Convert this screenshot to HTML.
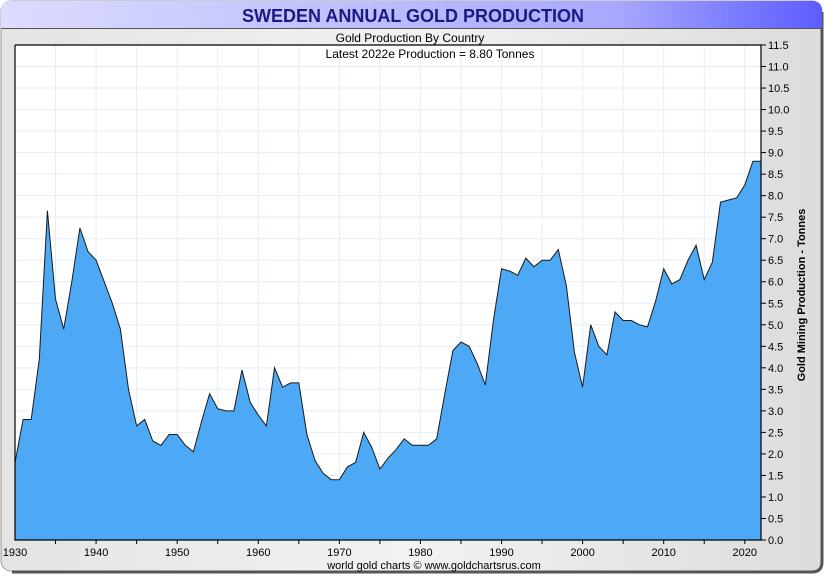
<!DOCTYPE html>
<html><head><meta charset="utf-8"><style>
body{margin:0;background:#fff;width:825px;height:575px;overflow:hidden;font-family:"Liberation Sans",sans-serif}
</style></head><body>
<svg id="c" width="825" height="575" xmlns="http://www.w3.org/2000/svg">
<defs>
<linearGradient id="tb" x1="0" x2="1"><stop offset="0" stop-color="#dcdcff"/><stop offset="0.75" stop-color="#a8a8ff"/><stop offset="1" stop-color="#5c5cff"/></linearGradient>
<linearGradient id="bg" x1="0" x2="1"><stop offset="0" stop-color="#e4e4e4"/><stop offset="0.5" stop-color="#f2f2f2"/><stop offset="1" stop-color="#dcdcdc"/></linearGradient>
</defs>
<rect x="1" y="1" width="821" height="570" rx="10" fill="url(#bg)" stroke="#999"/>
<path d="M822,12 V562 Q822,572 812,572 H12" fill="none" stroke="#555" stroke-width="3"/>
<path d="M1,28 V11 Q1,1 11,1 H812 Q822,1 822,11 V28 Z" fill="url(#tb)"/>
<line x1="1" y1="28.5" x2="822" y2="28.5" stroke="#555"/>
<text x="413" y="22" text-anchor="middle" font-size="18" font-weight="bold" fill="#1a1a80">SWEDEN ANNUAL GOLD PRODUCTION</text>
<text x="410" y="42" text-anchor="middle" font-size="12" fill="#000">Gold Production By Country</text>
<rect x="15" y="45" width="746" height="495" fill="#fff"/>
<g id="grid"></g>
<path id="area" fill="#4da9f5" stroke="#1a1a1a" stroke-width="1"/>
<text x="430" y="58" text-anchor="middle" font-size="12" fill="#000">Latest 2022e  Production = 8.80 Tonnes</text>
<g id="axes"></g>
<text transform="translate(805,295) rotate(-90)" text-anchor="middle" font-size="11" font-weight="bold" fill="#000">Gold Mining Production - Tonnes</text>
<text x="434" y="569" text-anchor="middle" font-size="11" fill="#000">world gold charts © www.goldchartsrus.com</text>
</svg>
<script>
const years=[];for(let y=1930;y<=2022;y++)years.push(y);
const tonnes=[1.8,2.8,2.8,4.2,7.65,5.6,4.9,6.0,7.25,6.7,6.5,6.0,5.5,4.9,3.5,2.65,2.8,2.3,2.2,2.45,2.45,2.2,2.05,2.75,3.4,3.05,3.0,3.0,3.95,3.2,2.9,2.65,4.0,3.55,3.65,3.65,2.45,1.85,1.55,1.4,1.4,1.7,1.8,2.5,2.15,1.65,1.9,2.1,2.35,2.2,2.2,2.2,2.35,3.4,4.4,4.6,4.5,4.1,3.6,5.1,6.3,6.25,6.15,6.55,6.35,6.5,6.5,6.75,5.9,4.35,3.55,5.0,4.5,4.3,5.3,5.1,5.1,5.0,4.95,5.55,6.3,5.95,6.05,6.5,6.85,6.05,6.45,7.85,7.9,7.95,8.25,8.8,8.8];
const yTicks=[];for(let i=0;i<=23;i++)yTicks.push(i*0.5);
const xTickLabels=[1930,1940,1950,1960,1970,1980,1990,2000,2010,2020];
const X0=15,X1=761,Y0=540,Y1=45;
const xs=y=>X0+(y-1930)*(X1-X0)/92;
const ys=v=>Y0-(v/11.5)*(Y0-Y1);
const NS='http://www.w3.org/2000/svg';
function mk(tag,at,par){const e=document.createElementNS(NS,tag);for(const k in at)e.setAttribute(k,at[k]);par.appendChild(e);return e;}
const grid=document.getElementById('grid'),axes=document.getElementById('axes');
yTicks.forEach(v=>{
 const l=mk('line',{x1:X0,x2:X1,y1:ys(v),y2:ys(v),stroke:'#e3eef7'},grid);
 
 
 const t=mk('line',{x1:X1,x2:X1+5,y1:ys(v),y2:ys(v),stroke:'#000'},axes);
 
 
 const tx=mk('text',{x:X1+7,y:ys(v)+4,'font-size':11,fill:'#000'},axes);
 tx.textContent=v.toFixed(1);
 
 
});
for(let y=1935;y<2022;y+=5){
 const l=mk('line',{x1:xs(y),x2:xs(y),y1:Y1,y2:Y0,stroke:'#e3eef7'},grid);
 
 
 const t=mk('line',{x1:xs(y),x2:xs(y),y1:Y0,y2:Y0+4,stroke:'#000'},axes);
 
 
}
xTickLabels.forEach(y=>{
 const tx=mk('text',{x:xs(y),y:556,'font-size':11,'text-anchor':'middle',fill:'#000'},axes);
 tx.textContent=y;
 
 
});
let d='M'+xs(years[0])+','+Y0;
years.forEach((y,i)=>{d+=' L'+xs(y).toFixed(1)+','+ys(tonnes[i]).toFixed(1);});
d+=' L'+xs(years[years.length-1])+','+Y0+' Z';
document.getElementById('area').setAttribute('d',d);
const ax=mk('path',{d:`M${X0},${Y1} V${Y0} H${X1} V${Y1} H${X0}`,fill:'none',stroke:'#000','stroke-width':1.2},axes);


</script>
</body></html>
